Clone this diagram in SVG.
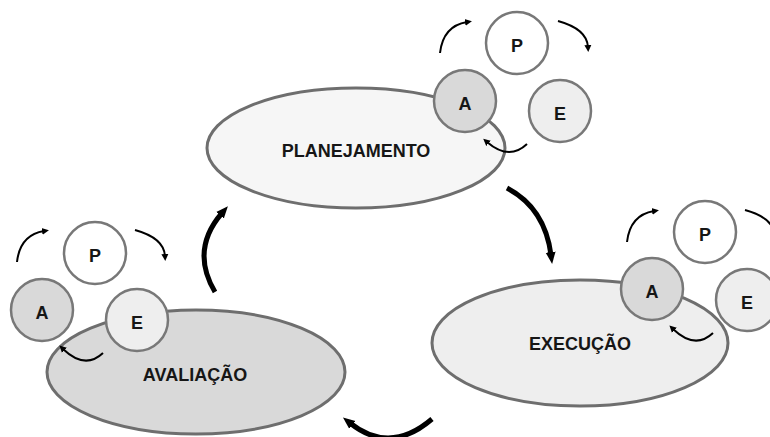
<svg xmlns="http://www.w3.org/2000/svg" width="770" height="437" viewBox="0 0 770 437">
  <defs>
    <style>
      .stage { stroke: #6e6e6e; stroke-width: 3; }
      .ring { stroke: #787878; stroke-width: 2.5; }
      .p { fill: #ffffff; }
      .a { fill: #d9d9d9; }
      .e { fill: #eeeeee; }
      .lbl { font-family: "Liberation Sans", Arial, sans-serif; font-weight: bold; fill: #161616; text-anchor: middle; }
      .big { font-size: 18px; }
      .small { font-size: 18px; }
      .flow { fill: none; stroke: #000; stroke-width: 5; marker-end: url(#bigHead); }
      .turn { fill: none; stroke: #000; stroke-width: 2; marker-end: url(#smallHead); }
    </style>
    <marker id="bigHead" markerUnits="userSpaceOnUse" markerWidth="14" markerHeight="12" refX="3" refY="6" orient="auto">
      <path d="M0,1 L12,6 L0,11 z" fill="#000"/>
    </marker>
    <marker id="smallHead" markerUnits="userSpaceOnUse" markerWidth="8" markerHeight="8" refX="2" refY="4" orient="auto">
      <path d="M0,0.5 L7,4 L0,7.5 z" fill="#000"/>
    </marker>
  </defs>

  <rect width="770" height="437" fill="#ffffff"/>

  <!-- main cycle connectors -->
  <g id="connectors">
    <path class="flow" d="M507,188 Q545,208 551,255"/>
    <path class="flow" d="M432,419 Q390,455 350,423"/>
    <path class="flow" d="M215,292 Q190,250 222,213"/>
  </g>

  <!-- PLANEJAMENTO stage -->
  <g id="planejamento">
    <ellipse class="stage" cx="356" cy="148" rx="149" ry="60" fill="#f6f6f6"/>
    <text class="lbl big" x="356" y="157">PLANEJAMENTO</text>
    <g id="pdca-planejamento" transform="translate(517,43)">
      <path class="turn" d="M-77,10 Q-74,-17 -50,-21"/>
      <path class="turn" d="M41,-22 Q70,-14 71,4"/>
      <path class="turn" d="M10,101 Q-8,118 -30,99"/>
      <circle class="ring p" cx="0" cy="0" r="31"/>
      <circle class="ring a" cx="-52" cy="58" r="31"/>
      <circle class="ring e" cx="43" cy="68" r="31"/>
      <text class="lbl small" x="0" y="9">P</text>
      <text class="lbl small" x="-52" y="67">A</text>
      <text class="lbl small" x="43" y="77">E</text>
    </g>
  </g>

  <!-- EXECUÇÃO stage -->
  <g id="execucao">
    <ellipse class="stage" cx="580" cy="343" rx="148" ry="63" fill="#eeeeee"/>
    <text class="lbl big" x="580" y="350">EXECUÇÃO</text>
    <g id="pdca-execucao" transform="translate(705,232)">
      <path class="turn" d="M-78,10 Q-75,-17 -51,-21"/>
      <path class="turn" d="M40,-22 Q69,-14 70,4"/>
      <path class="turn" d="M8,101 Q-10,118 -32,97"/>
      <circle class="ring p" cx="0" cy="0" r="31"/>
      <circle class="ring a" cx="-53" cy="57" r="31"/>
      <circle class="ring e" cx="42" cy="68" r="31"/>
      <text class="lbl small" x="0" y="9">P</text>
      <text class="lbl small" x="-53" y="66">A</text>
      <text class="lbl small" x="42" y="77">E</text>
    </g>
  </g>

  <!-- AVALIAÇÃO stage -->
  <g id="avaliacao">
    <ellipse class="stage" cx="196" cy="372" rx="149" ry="62" fill="#d9d9d9"/>
    <text class="lbl big" x="195" y="381">AVALIAÇÃO</text>
    <g id="pdca-avaliacao" transform="translate(95,253)">
      <path class="turn" d="M-78,9 Q-75,-18 -51,-22"/>
      <path class="turn" d="M40,-23 Q69,-15 70,3"/>
      <path class="turn" d="M8,100 Q-10,117 -32,96"/>
      <circle class="ring p" cx="0" cy="0" r="31"/>
      <circle class="ring a" cx="-53" cy="57" r="31"/>
      <circle class="ring e" cx="42" cy="67" r="31"/>
      <text class="lbl small" x="0" y="9">P</text>
      <text class="lbl small" x="-53" y="66">A</text>
      <text class="lbl small" x="42" y="76">E</text>
    </g>
  </g>
</svg>
